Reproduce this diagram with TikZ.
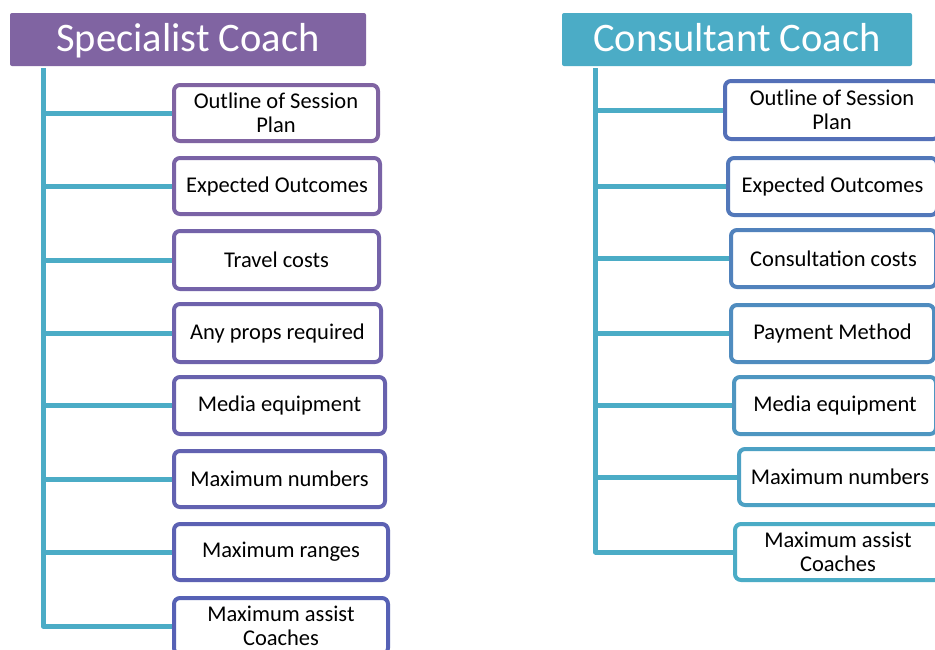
\documentclass[tikz,border=0pt]{standalone}
\usepackage{fontspec}
\setmainfont{Carlito}
\definecolor{hpurple}{HTML}{8064A2}
\definecolor{hteal}{HTML}{4BACC6}
\definecolor{la}{HTML}{8064A2}
\definecolor{lb}{HTML}{7A63A6}
\definecolor{lc}{HTML}{7463A9}
\definecolor{ld}{HTML}{6E62AC}
\definecolor{le}{HTML}{6862AE}
\definecolor{lf}{HTML}{6262B1}
\definecolor{lg}{HTML}{5C61B3}
\definecolor{lh}{HTML}{5661B5}
\definecolor{ra}{HTML}{5470B8}
\definecolor{rb}{HTML}{5278BA}
\definecolor{rc}{HTML}{5182BC}
\definecolor{rd}{HTML}{4F8CBF}
\definecolor{re}{HTML}{4E96C1}
\definecolor{rf}{HTML}{4CA1C4}
\definecolor{rg}{HTML}{4BACC6}
\tikzset{
  header/.style={fill=#1, rounded corners=2pt, text=white, font=\fontsize{40.5}{44}\selectfont, inner sep=0pt, minimum height=53pt, text height=28pt, text depth=4pt},
  itembox/.style={draw=#1, fill=white, line width=4pt, rounded corners=6pt, font=\fontsize{22.5}{24.5}\selectfont, align=center, inner sep=0pt, minimum height=56pt},
  conn/.style={draw=hteal, line width=5pt, line join=round},
}
\begin{document}
\begin{tikzpicture}[x=1pt,y=-1pt]
\clip (0,0) rectangle (935,649);
\fill[white] (0,0) rectangle (935,649);
% headers
\node[header=hpurple, minimum width=356pt] (lhd) at (188,39.5) {Specialist Coach};
\node[header=hteal, minimum width=350pt] (rhd) at (737,39.5) {Consultant Coach};
\coordinate (lt) at (43,68);
\coordinate (rt) at (595.5,68);
% left boxes
\node[itembox=la, minimum width=204pt] (l1) at (276,113) {Outline of Session\\Plan};
\node[itembox=lb, minimum width=206pt] (l2) at (277,186) {Expected Outcomes};
\node[itembox=lc, minimum width=205pt, minimum height=58pt] (l3) at (276.5,260) {Travel costs};
\node[itembox=ld, minimum width=207pt, minimum height=58pt] (l4) at (277.5,333) {Any props required};
\node[itembox=le, minimum width=211pt, minimum height=57pt] (l5) at (279.5,405.5) {Media equipment};
\node[itembox=lf, minimum width=211pt] (l6) at (279.5,479) {Maximum numbers};
\node[itembox=lg, minimum width=214pt] (l7) at (281,552) {Maximum ranges};
\node[itembox=lh, minimum width=214pt] (l8) at (281,626) {Maximum assist\\Coaches};
% right boxes
\node[itembox=ra, minimum width=214pt, minimum height=58pt] (r1) at (832,110) {Outline of Session\\Plan};
\node[itembox=rb, minimum width=209pt, minimum height=57pt] (r2) at (832.5,186.5) {Expected Outcomes};
\node[itembox=rc, minimum width=205pt, minimum height=57pt] (r3) at (833.5,258.5) {Consultation costs};
\node[itembox=rd, minimum width=203pt, minimum height=57pt] (r4) at (832.5,333.5) {Payment Method};
\node[itembox=re, minimum width=202pt, minimum height=57pt] (r5) at (835,405.5) {Media equipment};
\node[itembox=rf, minimum width=202pt] (r6) at (840,477) {Maximum numbers};
\node[itembox=rg, minimum width=206pt] (r7) at (838,552) {Maximum assist\\Coaches};
% connectors
\foreach \n in {l1,l2,l3,l4,l5,l6,l7,l8} {\draw[conn] (lt) |- (\n.west);}
\foreach \n in {r1,r2,r3,r4,r5,r6,r7} {\draw[conn] (rt) |- (\n.west);}
\end{tikzpicture}
\end{document}
